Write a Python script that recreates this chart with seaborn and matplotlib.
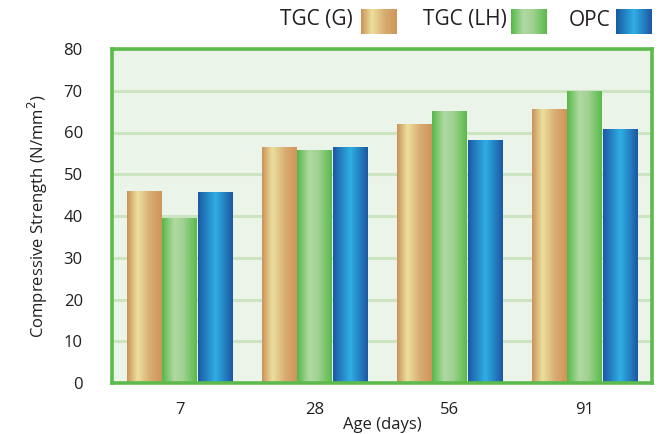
import numpy as np
import pandas as pd
import matplotlib
matplotlib.use("Agg")
import matplotlib.pyplot as plt
import seaborn as sns
from matplotlib.colors import LinearSegmentedColormap

# Compressive strength by curing age
ages = ["7", "28", "56", "91"]
series = ["TGC (G)", "TGC (LH)", "OPC"]
tgc_g = [45.8, 56.3, 62.0, 65.6]
tgc_lh = [39.3, 55.6, 65.1, 69.9]
opc = [45.6, 56.5, 58.0, 60.8]
y_ticks = [0, 10, 20, 30, 40, 50, 60, 70, 80]

df = pd.DataFrame({
    "age": ages * 3,
    "series": [s for s in series for _ in ages],
    "strength": tgc_g + tgc_lh + opc,
})

# Horizontal shading stops for each material
stops = {
    "TGC (G)": [(0.0, "#cc9157"), (0.3, "#ebe09e"), (0.65, "#d9ad73"), (1.0, "#cf955a")],
    "TGC (LH)": [(0.0, "#55b847"), (0.35, "#b0d9a2"), (0.6, "#a2d293"), (1.0, "#58bb48")],
    "OPC": [(0.0, "#1b58a3"), (0.5, "#2fafe5"), (1.0, "#1b57a2")],
}
cmaps = {k: LinearSegmentedColormap.from_list(k, v) for k, v in stops.items()}
base = {"TGC (G)": "#d9ad73", "TGC (LH)": "#8fcb80", "OPC": "#2a80c4"}

sns.set_style("white")
plt.rcParams["font.family"] = ["Open Sans", "DejaVu Sans"]

fig = plt.figure(figsize=(6.64, 4.34), dpi=100)
ax = fig.add_axes([112 / 664, 51 / 434, 540 / 664, 334 / 434])

sns.barplot(data=df, x="age", y="strength", hue="series", order=ages,
            hue_order=series, palette=base, width=0.79, gap=0.03,
            legend=False, ax=ax, errorbar=None)

grad = np.linspace(0, 1, 256).reshape(1, -1)
for cont, name in zip(ax.containers, series):
    for bar in cont:
        x0 = bar.get_x()
        w = bar.get_width()
        h = bar.get_height()
        bar.set_facecolor("none")
        bar.set_edgecolor("none")
        ax.imshow(grad, cmap=cmaps[name], aspect="auto", zorder=2,
                  extent=[x0, x0 + w, 0, h], interpolation="bilinear")

ax.set_xlim(-0.5, 3.5)
ax.set_ylim(0, 80)
ax.set_yticks(y_ticks)
ax.set_facecolor("#ebf4e8")
ax.yaxis.grid(True, color="#cbe5c2", linewidth=2.2)
ax.xaxis.grid(False)
ax.set_axisbelow(True)
for sp in ax.spines.values():
    sp.set_color("#5cbb4c")
    sp.set_linewidth(2.6)
    sp.set_zorder(5)

ax.tick_params(axis="both", length=0, labelsize=12, colors="#231f20")
ax.tick_params(axis="y", pad=21)
ax.tick_params(axis="x", pad=14)
ax.set_xlabel("Age (days)", fontsize=12, color="#231f20", labelpad=-1)
ax.set_ylabel("Compressive Strength (N/mm$^2$)", fontsize=12,
              color="#231f20", labelpad=10)

# Legend row above the plot: label followed by a shaded swatch
legend_items = [("TGC (G)", 353, 361), ("TGC (LH)", 507, 511), ("OPC", 611, 616)]
for name, text_right, sw_left in legend_items:
    fig.text(text_right / 664, 1 - 20 / 434, name, ha="right", va="center",
             fontsize=15, color="#231f20")
    sax = fig.add_axes([sw_left / 664, 1 - 34 / 434, 36 / 664, 25 / 434])
    sax.imshow(grad, cmap=cmaps[name], aspect="auto", interpolation="bilinear")
    sax.set_axis_off()

fig.savefig("out.png", dpi=100)
